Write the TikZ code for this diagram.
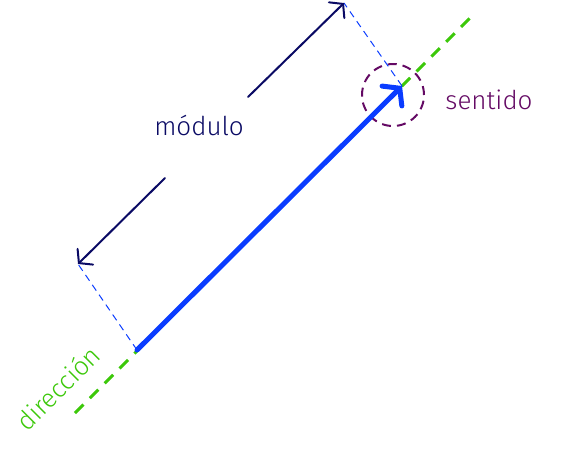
\documentclass[tikz,border=0pt]{standalone}
\usepackage{fontspec}
\setmainfont{Fira Sans Light}
\usepackage{tikz}
\usetikzlibrary{arrows.meta}
\definecolor{vecblue}{HTML}{0A3CFF}
\definecolor{dirgreen}{HTML}{3CC80A}
\definecolor{modnavy}{HTML}{0A0A64}
\definecolor{senpurple}{HTML}{640A64}
\tikzstyle{vector} = [line width=5pt, vecblue, line cap=round, -{Straight Barb[length=11pt,width=28pt,line cap=round]}]
\tikzstyle{direction} = [line width=3pt, dirgreen, dash pattern=on 12pt off 9pt]
\tikzstyle{guide} = [line width=1pt, vecblue, dash pattern=on 7pt off 5pt]
\tikzstyle{measure} = [line width=2pt, modnavy, line cap=round, -{Straight Barb[length=9pt,width=22pt,line cap=round]}]
\tikzstyle{sense} = [circle, minimum size=62pt, line width=2pt, draw=senpurple, dash pattern=on 9pt off 6pt]
\tikzstyle{label} = [font=\fontsize{26}{28}\selectfont, inner sep=1pt]

\begin{document}
\begin{tikzpicture}[x=1pt, y=-1pt]
	\useasboundingbox (0,0) rectangle (571,451);
	\coordinate (tail) at (137,350);
	\coordinate (head) at (402,86);
	\coordinate (dir_start) at (75,413);
	\coordinate (dir_end) at (470,18);
	\coordinate (low_end) at (78,264);
	\coordinate (top_end) at (344,3);
	\coordinate (low_start) at (165,178);
	\coordinate (top_start) at (248,97);

	\node[sense](circ) at (393,95){};
	\node[label, modnavy](modulo) at (199,125){módulo};
	\node[label, senpurple](sentido) at (489,100){sentido};
	\node[label, dirgreen, rotate=45](direccion) at (58,388){dirección};

	\draw[direction] (dir_start) -- (dir_end);
	\draw[guide] (tail) -- (low_end);
	\draw[guide] (head) -- (top_end);
	\draw[measure] (low_start) -- (low_end);
	\draw[measure] (top_start) -- (top_end);
	\draw[vector] (tail) -- (head);
\end{tikzpicture}
\end{document}
